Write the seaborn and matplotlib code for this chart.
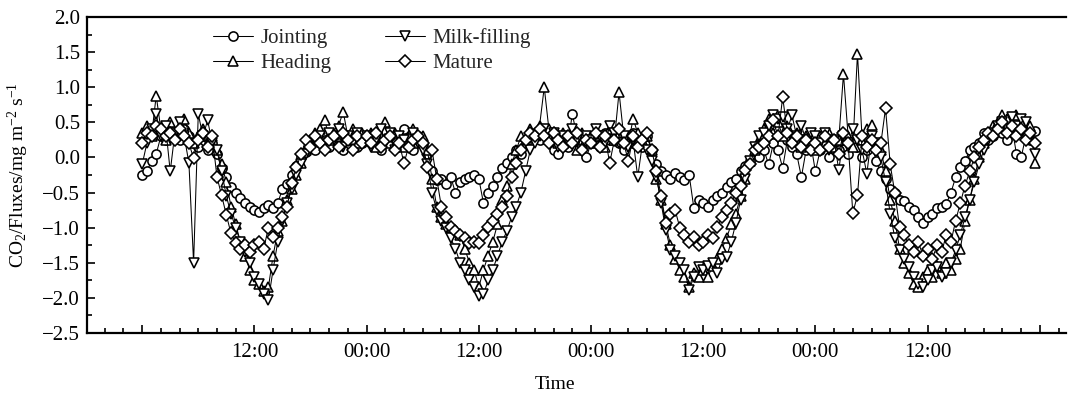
import numpy as np
import pandas as pd
import matplotlib
matplotlib.use("Agg")
import matplotlib.pyplot as plt
from matplotlib.ticker import FixedLocator, MultipleLocator
from matplotlib.lines import Line2D
import seaborn as sns

# Half-hourly CO2 flux (mg m-2 s-1), hours counted from the first midnight
stages = ["Jointing", "Heading", "Milk-filling", "Mature"]
step_h = 0.5

jointing = [
    -0.25, -0.2, -0.05, 0.05, 0.3, 0.25, 0.35, 0.3, 0.25, 0.4, 0.3, 0.2, 0.15, 0.3, 0.1, 0.2, 0.05, -0.15, -0.28, -0.42, -0.5, -0.58, -0.65, -0.7,
    -0.75, -0.78, -0.72, -0.68, -0.72, -0.65, -0.45, -0.38, -0.25, -0.12, 0.0, 0.08, 0.15, 0.1, 0.2, 0.25, 0.15, 0.3, 0.2, 0.1, 0.25, 0.3, 0.15, 0.2,
    0.3, 0.2, 0.35, 0.1, 0.25, 0.3, 0.15, 0.2, 0.4, 0.25, 0.1, 0.3, 0.2, 0.05, -0.2, -0.32, -0.3, -0.38, -0.28, -0.5, -0.35, -0.3, -0.28, -0.25,
    -0.3, -0.65, -0.5, -0.4, -0.28, -0.15, -0.08, 0.0, 0.1, 0.05, 0.2, 0.3, 0.35, 0.25, 0.4, 0.3, 0.1, 0.05, 0.25, 0.15, 0.62, 0.3, 0.2, 0.0,
    0.2, 0.3, 0.15, 0.35, 0.25, 0.3, 0.2, 0.1, 0.25, 0.35, 0.2, 0.15, 0.3, 0.1, -0.1, -0.2, -0.25, -0.3, -0.22, -0.28, -0.32, -0.25, -0.72, -0.6,
    -0.65, -0.7, -0.6, -0.55, -0.5, -0.42, -0.35, -0.3, -0.2, -0.12, -0.05, 0.05, 0.0, 0.1, -0.1, 0.2, 0.1, -0.15, 0.25, 0.15, 0.05, -0.28, 0.1, 0.2,
    -0.2, 0.1, 0.2, 0.0, 0.15, 0.1, 0.25, 0.05, 0.2, 0.15, 0.0, 0.1, 0.2, -0.05, -0.2, -0.3, -0.45, -0.5, -0.6, -0.62, -0.7, -0.75, -0.85, -0.93,
    -0.85, -0.8, -0.72, -0.7, -0.66, -0.5, -0.28, -0.13, -0.05, 0.1, 0.15, 0.2, 0.35, 0.25, 0.3, 0.4, 0.35, 0.25, 0.45, 0.05, 0.0, 0.3, 0.25, 0.38,
]

heading = [
    0.35, 0.45, 0.3, 0.88, 0.4, 0.25, 0.5, 0.3, 0.45, 0.55, 0.35, 0.2, 0.3, 0.4, 0.2, 0.3, 0.1, -0.1, -0.35, -0.7, -0.95, -1.2, -1.4, -1.6,
    -1.75, -1.8, -1.9, -1.85, -1.4, -1.05, -0.9, -0.6, -0.45, -0.25, -0.08, 0.1, 0.2, 0.35, 0.4, 0.53, 0.3, 0.25, 0.45, 0.65, 0.3, 0.4, 0.2, 0.35,
    0.25, 0.35, 0.15, 0.3, 0.5, 0.2, 0.35, 0.25, 0.15, 0.3, 0.4, 0.2, 0.3, 0.1, -0.3, -0.7, -0.85, -0.95, -1.0, -1.05, -1.1, -1.3, -1.5, -1.6,
    -1.85, -1.6, -1.4, -1.2, -0.95, -0.6, -0.4, -0.1, 0.1, 0.3, 0.2, 0.4, 0.35, 0.45, 1.0, 0.4, 0.3, 0.2, 0.35, 0.25, 0.3, 0.1, 0.35, 0.25,
    0.2, 0.35, 0.3, 0.15, 0.4, 0.25, 0.93, 0.3, 0.2, 0.55, 0.35, 0.25, 0.3, 0.1, -0.3, -0.6, -0.95, -1.25, -1.45, -1.6, -1.7, -1.85, -1.65, -1.7,
    -1.6, -1.7, -1.55, -1.45, -1.3, -1.15, -0.95, -0.8, -0.55, -0.3, -0.05, 0.1, 0.25, 0.4, 0.55, 0.35, 0.5, 0.3, 0.45, 0.25, 0.35, 0.15, 0.3, 0.2,
    0.1, 0.3, 0.2, 0.35, 0.15, 0.25, 1.19, 0.3, 0.15, 1.48, 0.25, 0.4, 0.46, 0.2, 0.1, -0.2, -0.6, -0.9, -1.3, -1.5, -1.65, -1.8, -1.85, -1.7,
    -1.6, -1.7, -1.55, -1.65, -1.5, -1.6, -1.45, -1.3, -0.9, -0.6, -0.3, 0.0, 0.2, 0.35, 0.45, 0.5, 0.6, 0.55, 0.45, 0.6, 0.5, 0.35, 0.45, -0.08,
]

milk_filling = [
    -0.1, 0.2, 0.4, 0.62, 0.3, 0.45, -0.2, 0.35, 0.5, 0.3, -0.08, -1.5, 0.62, 0.3, 0.53, 0.2, 0.1, -0.2, -0.55, -0.8, -1.0, -1.2, -1.35, -1.5,
    -1.7, -1.8, -1.95, -2.03, -1.6, -1.2, -0.9, -0.65, -0.45, -0.25, -0.1, 0.05, 0.15, 0.25, 0.3, 0.2, 0.35, 0.25, 0.4, 0.15, 0.3, 0.2, 0.35, 0.25,
    0.3, 0.15, 0.25, 0.4, 0.2, 0.35, 0.1, 0.3, 0.25, 0.15, 0.35, 0.2, 0.1, -0.1, -0.5, -0.75, -0.9, -1.0, -1.15, -1.3, -1.5, -1.6, -1.75, -1.85,
    -1.98, -1.95, -1.75, -1.6, -1.4, -1.2, -1.05, -0.85, -0.7, -0.5, -0.2, 0.1, 0.2, 0.3, 0.4, 0.25, 0.35, 0.15, 0.3, 0.2, 0.4, 0.25, 0.1, 0.3,
    0.25, 0.4, 0.3, 0.2, 0.45, 0.35, 0.2, 0.3, 0.15, 0.25, -0.28, 0.2, 0.1, -0.05, -0.28, -0.65, -1.03, -1.32, -1.4, -1.5, -1.6, -1.89, -1.7, -1.56,
    -1.6, -1.55, -1.5, -1.65, -1.45, -1.42, -1.2, -0.93, -0.6, -0.3, -0.05, 0.15, 0.3, 0.35, 0.45, 0.6, 0.55, 0.58, 0.4, 0.6, 0.3, 0.45, 0.25, 0.35,
    0.3, 0.2, 0.35, 0.1, 0.25, -0.18, 0.3, 0.2, 0.4, 0.25, 0.1, -0.23, 0.3, 0.2, 0.0, -0.35, -0.8, -1.15, -1.32, -1.45, -1.56, -1.7, -1.8, -1.85,
    -1.75, -1.6, -1.56, -1.7, -1.65, -1.5, -1.32, -1.1, -0.85, -0.6, -0.35, -0.1, 0.1, 0.25, 0.35, 0.45, 0.5, 0.4, 0.58, 0.45, 0.55, 0.5, 0.3, 0.05,
]

mature = [
    0.2, 0.35, 0.3, 0.45, 0.4, 0.3, 0.35, 0.25, 0.4, 0.3, 0.2, -0.01, 0.25, 0.35, 0.15, 0.3, -0.28, -0.54, -0.82, -1.08, -1.22, -1.3, -1.25, -1.35,
    -1.25, -1.2, -1.3, -1.0, -1.13, -1.0, -0.85, -0.7, -0.37, -0.14, 0.05, 0.25, 0.15, 0.3, 0.2, 0.1, 0.25, 0.3, 0.15, 0.35, 0.25, 0.1, 0.3, 0.2,
    0.3, 0.2, 0.35, 0.15, 0.25, 0.3, 0.1, 0.2, -0.08, 0.15, 0.25, 0.3, 0.2, -0.14, 0.1, -0.3, -0.7, -0.85, -0.99, -1.05, -1.1, -1.15, -1.22, -1.2,
    -1.22, -1.1, -0.99, -0.9, -0.8, -0.7, -0.55, -0.28, -0.08, 0.1, 0.25, 0.35, 0.3, 0.4, 0.3, 0.2, 0.35, 0.25, 0.15, 0.3, 0.2, 0.35, 0.1, 0.25,
    0.2, 0.35, 0.15, 0.3, -0.08, 0.25, 0.4, 0.2, -0.05, 0.3, 0.15, 0.25, 0.35, 0.1, -0.2, -0.55, -0.93, -0.8, -0.75, -1.0, -1.1, -1.2, -1.13, -1.25,
    -1.2, -1.1, -1.15, -0.99, -0.85, -0.75, -0.65, -0.5, -0.4, -0.18, -0.1, 0.1, 0.15, 0.2, 0.3, 0.53, 0.3, 0.86, 0.35, 0.2, 0.3, 0.15, 0.25, 0.1,
    0.2, 0.1, 0.3, 0.15, 0.25, 0.05, 0.35, 0.2, -0.79, -0.54, 0.3, 0.15, 0.25, 0.1, 0.2, 0.7, -0.1, -0.51, -0.99, -1.1, -1.25, -1.35, -1.2, -1.4,
    -1.3, -1.45, -1.25, -1.35, -1.1, -1.2, -0.9, -0.65, -0.4, -0.2, 0.0, 0.15, 0.25, 0.35, 0.3, 0.4, 0.5, 0.35, 0.45, 0.3, 0.4, 0.25, 0.35, 0.2,
]

x_tick_hours = [0, 12, 24, 36, 48, 60, 72, 84, 96]
x_tick_labels = ["", "12:00", "00:00", "12:00", "00:00", "12:00", "00:00", "12:00", ""]
y_ticks = [-2.5, -2.0, -1.5, -1.0, -0.5, 0.0, 0.5, 1.0, 1.5, 2.0]

series = dict(zip(stages, [jointing, heading, milk_filling, mature]))
frames = []
for name, vals in series.items():
    hours = np.arange(len(vals)) * step_h
    frames.append(pd.DataFrame({"hour": hours, "flux": vals, "stage": name}))
df = pd.concat(frames, ignore_index=True)

sns.set_theme(style="ticks")
plt.rcParams["font.family"] = ["Liberation Serif", "DejaVu Serif"]
plt.rcParams["mathtext.fontset"] = "custom"
plt.rcParams["mathtext.rm"] = "Liberation Serif"
plt.rcParams["mathtext.it"] = "Liberation Serif:italic"

fig = plt.figure(figsize=(10.68, 3.94), dpi=100)
ax = fig.add_axes([87 / 1068, 1 - 333 / 394, (1066 - 87) / 1068, (333 - 17) / 394])

markers = {"Jointing": "o", "Heading": "^", "Milk-filling": "v", "Mature": "D"}
msize = {"o": 6.6, "^": 6.8, "v": 6.8, "D": 5.7}
sns.lineplot(
    data=df, x="hour", y="flux", hue="stage", style="stage",
    hue_order=stages, style_order=stages,
    palette=["black"] * 4, markers=markers, dashes=False,
    errorbar=None, legend=False, ax=ax,
    linewidth=0.75, markersize=6.6, markerfacecolor="white",
    markeredgecolor="black", markeredgewidth=1.15,
)
for line in ax.lines:
    line.set_markersize(msize[line.get_marker()])

ax.set_xlim(-5.9, 98.8)
ax.set_ylim(-2.5, 2.0)
ax.xaxis.set_major_locator(FixedLocator(x_tick_hours))
ax.set_xticklabels(x_tick_labels)
ax.xaxis.set_minor_locator(MultipleLocator(2))
ax.yaxis.set_major_locator(FixedLocator(y_ticks))
ax.set_yticklabels([f"{v:.1f}".replace("-", "\u2212") for v in y_ticks])
ax.yaxis.set_minor_locator(MultipleLocator(0.25))

ax.tick_params(axis="both", which="major", direction="in", length=6, width=1.2,
               labelsize=15, color="black", labelcolor="black")
ax.tick_params(axis="both", which="minor", direction="in", length=3.5, width=1.2,
               color="black")
ax.tick_params(axis="x", which="major", pad=7)
ax.tick_params(axis="y", which="major", pad=5)

for side in ["left", "bottom", "top"]:
    ax.spines[side].set_visible(True)
    ax.spines[side].set_linewidth(1.6)
    ax.spines[side].set_color("black")
ax.spines["right"].set_visible(False)

ax.set_xlabel("Time", fontsize=14, color="black")
ax.xaxis.set_label_coords((555 - 87) / (1066 - 87), -0.135)
ax.set_ylabel(r"CO$_\mathrm{2}$/Fluxes/mg m$^\mathrm{-2}$ s$^\mathrm{-1}$", fontsize=14,
              color="black")
ax.yaxis.set_label_coords(-0.057, 0.5)

handles = [
    Line2D([], [], color="black", lw=0.75, marker=markers[s],
           markersize=msize[markers[s]],
           markerfacecolor="white", markeredgecolor="black", markeredgewidth=1.15)
    for s in stages
]
leg = ax.legend(handles, stages, ncol=2, loc="upper left", frameon=False,
                bbox_to_anchor=(205 / 1068, 1 - 20 / 394), bbox_transform=fig.transFigure,
                borderaxespad=0, fontsize=15, handlelength=1.9, handletextpad=0.35,
                columnspacing=2.6, labelspacing=0.25)

fig.savefig("out.png", dpi=100, facecolor="white")
